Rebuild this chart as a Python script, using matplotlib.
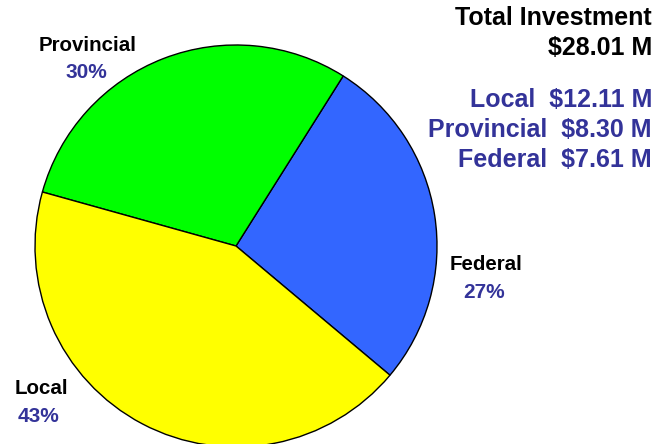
import matplotlib
matplotlib.use("Agg")
import matplotlib.pyplot as plt

# === Données ===
categories = ["Federal", "Provincial", "Local"]
values = [7.61, 8.30, 12.11]          # M$
colors = ["#3366FF", "#00FF00", "#FFFF00"]
total_label = "$28.01 M"
summary_order = ["Local", "Provincial", "Federal"]

# positions des étiquettes (pixels)
label_pos = {"Provincial": (88, 45), "Local": (41, 389), "Federal": (486, 265)}

BLUE_TXT = "#333399"
plt.rcParams["font.family"] = ["Liberation Sans", "DejaVu Sans"]

W, H = 668, 444
fig = plt.figure(figsize=(W / 100, H / 100), dpi=100)
ax = fig.add_axes([0, 0, 1, 1])

ax.pie(values, colors=colors, startangle=-40, counterclock=True,
       center=(236, H - 246), radius=201, frame=True,
       wedgeprops=dict(edgecolor="black", linewidth=1))
ax.set_xlim(0, W)
ax.set_ylim(0, H)
ax.set_aspect("equal")
ax.axis("off")

total = sum(values)
for cat, val in zip(categories, values):
    x, y = label_pos[cat]
    ax.text(x, H - y, cat, ha="center", va="center", fontsize=14.8,
            fontweight="bold", color="black")
    ax.text(x - 2, H - y - 27, f"{round(val / total * 100):.0f}%", ha="center",
            va="center", fontsize=15, fontweight="bold", color=BLUE_TXT)

ax.text(652, H - 18, "Total Investment", ha="right", va="center",
        fontsize=18, fontweight="bold", color="black")
ax.text(652, H - 48, total_label, ha="right", va="center",
        fontsize=18, fontweight="bold", color="black")
for i, cat in enumerate(summary_order):
    val = values[categories.index(cat)]
    ax.text(652, H - 100 - 30 * i, f"{cat}  ${val:.2f} M", ha="right",
            va="center", fontsize=18, fontweight="bold", color=BLUE_TXT)

fig.savefig("out.png", dpi=100)
